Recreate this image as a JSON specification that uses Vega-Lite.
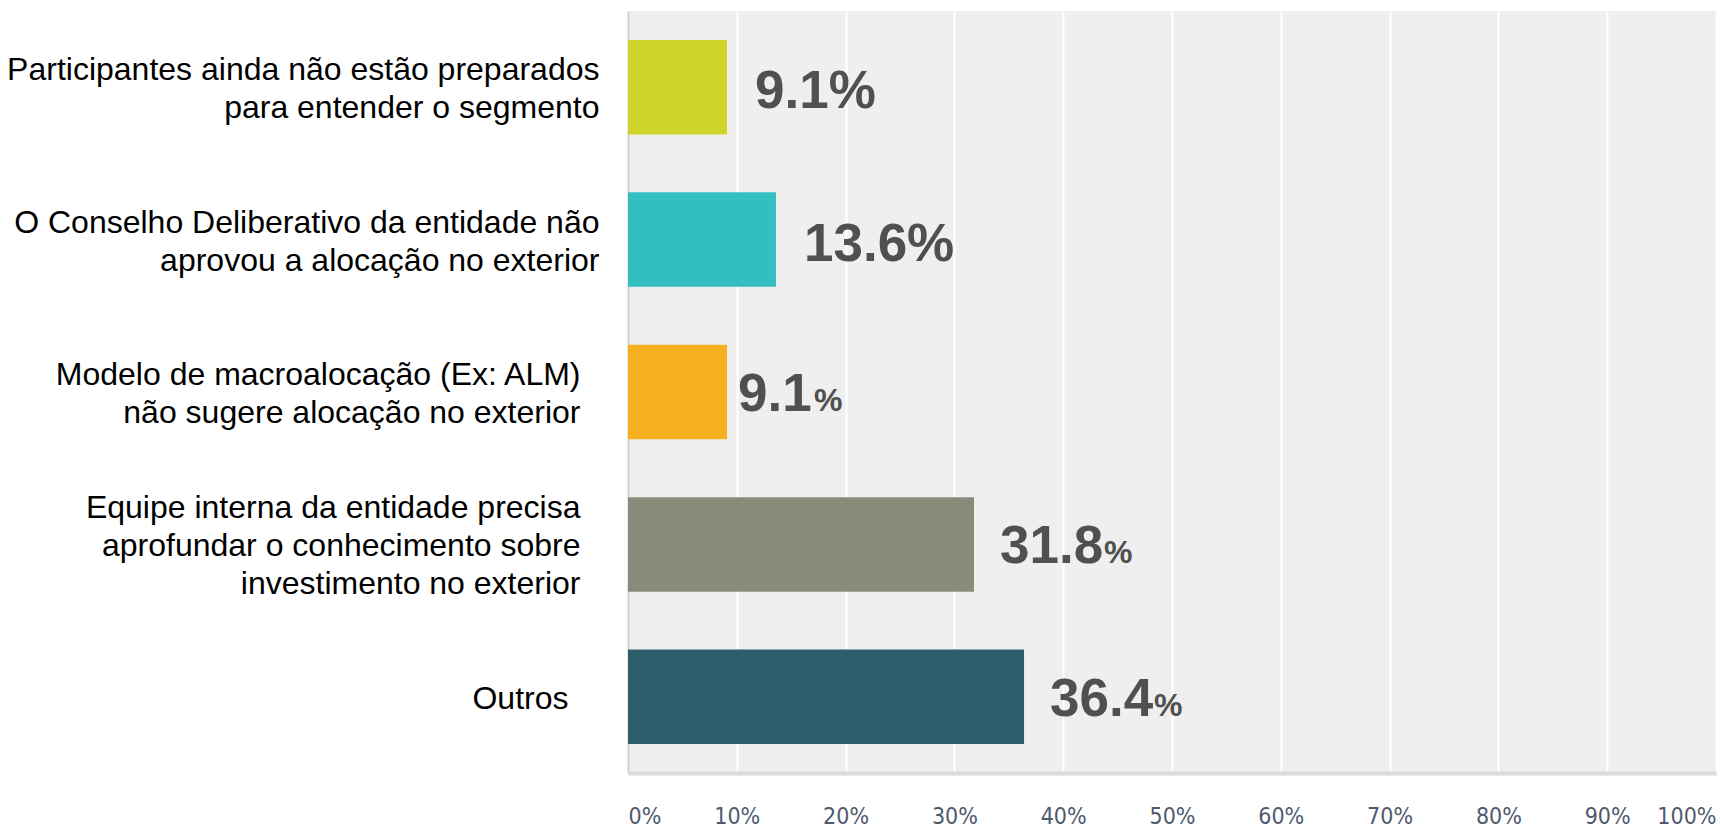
{
  "$schema": "https://vega.github.io/schema/vega-lite/v6.json",
  "width": 1088,
  "height": 762,
  "autosize": {"type": "none"},
  "padding": {"left": 628, "top": 11, "right": 4, "bottom": 55},
  "background": "white",
  "config": {
    "view": {"fill": "#efefef", "stroke": null},
    "font": "Liberation Sans"
  },
  "data": {
    "values": [
      {"cat": "Participantes ainda não estão preparados|para entender o segmento", "value": 9.1, "label": "9.1%"},
      {"cat": "O Conselho Deliberativo da entidade não|aprovou a alocação no exterior", "value": 13.6, "label": "13.6%"},
      {"cat": "Modelo de macroalocação (Ex: ALM)|não sugere alocação no exterior", "value": 9.1, "label": "9.1%"},
      {"cat": "Equipe interna da entidade precisa|aprofundar o conhecimento sobre|investimento no exterior", "value": 31.8, "label": "31.8%"},
      {"cat": "Outros", "value": 36.4, "label": "36.4%"}
    ]
  },
  "encoding": {
    "y": {
      "field": "cat",
      "type": "nominal",
      "sort": null,
      "scale": {"paddingInner": 0.38, "paddingOuter": 0.19},
      "axis": {
        "title": null,
        "ticks": false,
        "tickSize": 0,
        "domain": true,
        "domainColor": "#cfcfcf",
        "domainWidth": 2,
        "labelExpr": "split(datum.label, '|')",
        "labelFont": "Liberation Sans",
        "labelFontSize": 32,
        "labelLineHeight": 38,
        "labelColor": "#000000",
        "labelPadding": {"expr": "datum.label == 'Outros' ? 60 : (indexof(datum.label, 'Modelo') == 0 || indexof(datum.label, 'Equipe') == 0 ? 48 : 29)"},
        "labelLimit": 700,
        "labelBaseline": "middle",
        "labelOffset": {"expr": "2 - (length(split(datum.label, '|')) - 1) * 19"}
      }
    }
  },
  "layer": [
    {
      "mark": {"type": "bar"},
      "encoding": {
        "x": {
          "field": "value",
          "type": "quantitative",
          "scale": {"domain": [0, 100], "nice": false},
          "axis": {
            "title": null,
            "values": [0, 10, 20, 30, 40, 50, 60, 70, 80, 90, 100],
            "labelExpr": "datum.value + '%'",
            "ticks": false,
            "tickSize": 0,
            "grid": true,
            "gridColor": "#ffffff",
            "gridWidth": 2,
            "domain": true,
            "domainColor": "#dadada",
            "domainWidth": 4,
            "labelFlush": true,
            "labelFont": "DejaVu Sans Condensed, Liberation Sans",
            "labelFontSize": 23,
            "labelColor": "#505a6e",
            "labelPadding": 32
          }
        },
        "color": {
          "field": "cat",
          "type": "nominal",
          "sort": null,
          "legend": null,
          "scale": {"range": ["#cfd528", "#33bec0", "#f5af21", "#8a8a7a", "#2e5e6b"]}
        }
      }
    },
    {
      "transform": [{"filter": "datum.value < 30 && indexof(datum.cat, 'Modelo') != 0"}],
      "mark": {"type": "text", "align": "left", "baseline": "alphabetic", "dx": 28, "dy": 21, "fontSize": 53, "fontWeight": "bold", "color": "#505050", "font": "Liberation Sans"},
      "encoding": {
        "x": {"field": "value", "type": "quantitative"},
        "text": {"field": "label"}
      }
    },
    {
      "transform": [{"filter": "indexof(datum.cat, 'Modelo') == 0"}],
      "mark": {"type": "text", "align": "left", "baseline": "alphabetic", "dx": 11, "dy": 19, "fontSize": 53, "fontWeight": "bold", "color": "#505050", "font": "Liberation Sans"},
      "encoding": {
        "x": {"field": "value", "type": "quantitative"},
        "text": {"field": "value", "type": "quantitative", "format": ".1f"}
      }
    },
    {
      "transform": [{"filter": "indexof(datum.cat, 'Modelo') == 0"}],
      "mark": {"type": "text", "align": "left", "baseline": "alphabetic", "dx": 87, "dy": 19, "fontSize": 32, "fontWeight": "bold", "color": "#505050", "font": "Liberation Sans"},
      "encoding": {
        "x": {"field": "value", "type": "quantitative"},
        "text": {"value": "%"}
      }
    },
    {
      "transform": [{"filter": "datum.value >= 30"}],
      "mark": {"type": "text", "align": "left", "baseline": "alphabetic", "dx": 26, "dy": 19, "fontSize": 53, "fontWeight": "bold", "color": "#505050", "font": "Liberation Sans"},
      "encoding": {
        "x": {"field": "value", "type": "quantitative"},
        "text": {"field": "value", "type": "quantitative", "format": ".1f"}
      }
    },
    {
      "transform": [{"filter": "datum.value >= 30"}],
      "mark": {"type": "text", "align": "left", "baseline": "alphabetic", "dx": 130, "dy": 19, "fontSize": 32, "fontWeight": "bold", "color": "#505050", "font": "Liberation Sans"},
      "encoding": {
        "x": {"field": "value", "type": "quantitative"},
        "text": {"value": "%"}
      }
    }
  ]
}
